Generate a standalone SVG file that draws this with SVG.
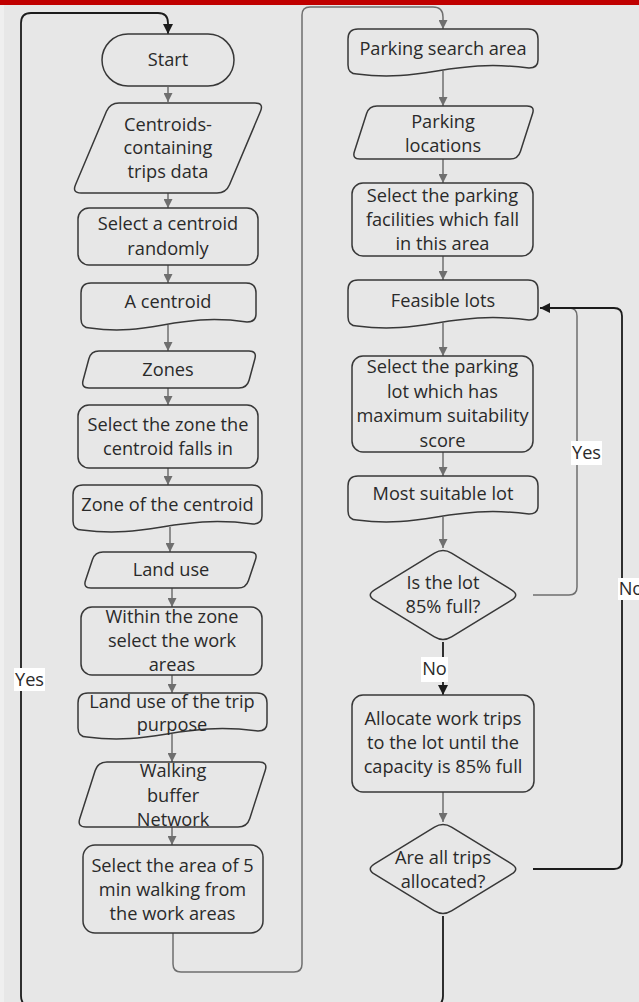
<svg xmlns="http://www.w3.org/2000/svg" width="639" height="1002" viewBox="0 0 639 1002">
<style>
.n{fill:#e7e7e7;stroke:#383838;stroke-width:1.5}
.t{font-family:"Open Sans","Liberation Sans",sans-serif;font-size:18.2px;fill:#2a2a2a;text-anchor:middle}
.c{fill:none;stroke:#6f6f6f;stroke-width:1.5}
.k{fill:none;stroke:#1c1c1c;stroke-width:1.8}
.lb{fill:#ffffff}
</style>
<defs>
<marker id="ag" viewBox="0 0 10 10" refX="10" refY="5" markerWidth="9" markerHeight="9" markerUnits="userSpaceOnUse" orient="auto"><path d="M0,0 L10,5 L0,10 z" fill="#6f6f6f"/></marker>
<marker id="ak" viewBox="0 0 10 10" refX="10" refY="5" markerWidth="10" markerHeight="10" markerUnits="userSpaceOnUse" orient="auto"><path d="M0,0 L10,5 L0,10 z" fill="#1c1c1c"/></marker>
</defs>
<rect x="0" y="0" width="639" height="1002" fill="#e7e7e7"/>
<rect x="0" y="0" width="4" height="1002" fill="#efefef"/>
<rect x="0" y="0" width="639" height="5" fill="#c00000"/>

<g id="connectors">
<path class="c" d="M168,87 V102" marker-end="url(#ag)"/>
<path class="c" d="M168,193 V208" marker-end="url(#ag)"/>
<path class="c" d="M168,265 V283" marker-end="url(#ag)"/>
<path class="c" d="M168,325 V351" marker-end="url(#ag)"/>
<path class="c" d="M168,388 V405" marker-end="url(#ag)"/>
<path class="c" d="M168,468 V485" marker-end="url(#ag)"/>
<path class="c" d="M170,527 V552" marker-end="url(#ag)"/>
<path class="c" d="M172,588 V607" marker-end="url(#ag)"/>
<path class="c" d="M172,675 V693" marker-end="url(#ag)"/>
<path class="c" d="M172,734 V762" marker-end="url(#ag)"/>
<path class="c" d="M172,827 V845" marker-end="url(#ag)"/>
<path class="c" d="M173,933 V964 Q173,972 181,972 H294 Q302,972 302,964 V15 Q302,7 310,7 H433 Q443,7 443,17 V29" marker-end="url(#ag)"/>
<path class="c" d="M443,71 V106" marker-end="url(#ag)"/>
<path class="c" d="M443,159 V183" marker-end="url(#ag)"/>
<path class="c" d="M443,256 V280" marker-end="url(#ag)"/>
<path class="c" d="M443,323 V356" marker-end="url(#ag)"/>
<path class="c" d="M443,452 V476" marker-end="url(#ag)"/>
<path class="c" d="M443,517 V548" marker-end="url(#ag)"/>
<path class="c" d="M533,595 H569 Q577,595 577,587 V316 Q577,308 569,308 H548"/>
<path class="k" d="M443,642 V695" marker-end="url(#ak)"/>
<path class="c" d="M443,792 V822" marker-end="url(#ag)"/>
<path class="k" d="M533,869 H614 Q622,869 622,861 V316 Q622,308 614,308 H540" marker-end="url(#ak)"/>
<path class="k" d="M443,916 V996 Q443,1006 433,1006 H31 Q21,1006 21,996 V23 Q21,13 31,13 H158 Q168,13 168,23 V34" marker-end="url(#ak)"/>
<rect class="lb" x="14" y="668" width="31" height="23"/>
<text class="t" x="29.5" y="686">Yes</text>
<rect class="lb" x="571" y="441" width="31" height="24"/>
<text class="t" x="586.5" y="459">Yes</text>
<rect class="lb" x="421" y="657" width="27" height="25"/>
<text class="t" x="434.5" y="675">No</text>
<rect class="lb" x="618" y="578" width="21" height="22"/>
<text class="t" x="631" y="595">No</text>
</g>

<g id="start">
<rect class="n" x="102" y="34" width="132" height="52" rx="26"/>
<text class="t" x="168" y="66">Start</text>
</g>
<g id="centroids-data">
<path class="n" d="M119,103 H255 Q264,103 260.5,111.3 L229.5,184.7 Q226,193 217,193 H81 Q72,193 75.5,184.7 L106.5,111.3 Q110,103 119,103 Z"/>
<text class="t"><tspan x="168" y="131">Centroids-</tspan><tspan x="168" y="154">containing</tspan><tspan x="168" y="178">trips data</tspan></text>
</g>
<g id="select-centroid">
<rect class="n" x="78" y="208" width="180" height="57" rx="11"/>
<text class="t"><tspan x="168" y="230">Select a centroid</tspan><tspan x="168" y="255">randomly</tspan></text>
</g>
<g id="a-centroid">
<path class="n" d="M91,283 H246 Q256,283 256,293 V314 Q256,322 247,322 C177,312 151,337 90,328 Q81,328 81,319 V293 Q81,283 91,283 Z"/>
<text class="t" x="168" y="308">A centroid</text>
</g>
<g id="zones">
<path class="n" d="M99,351 H249 Q257,351 254.9,358.7 L249.1,380.3 Q247,388 239,388 H89 Q81,388 83.1,380.3 L88.9,358.7 Q91,351 99,351 Z"/>
<text class="t" x="168" y="376">Zones</text>
</g>
<g id="select-zone">
<rect class="n" x="78" y="405" width="180" height="63" rx="11"/>
<text class="t"><tspan x="168" y="431">Select the zone the</tspan><tspan x="168" y="455">centroid falls in</tspan></text>
</g>
<g id="zone-of-centroid">
<path class="n" d="M83,485 H252 Q262,485 262,495 V516 Q262,524 253,524 C177,514 149,539 82,530 Q73,530 73,521 V495 Q73,485 83,485 Z"/>
<text class="t" x="167.5" y="511">Zone of the centroid</text>
</g>
<g id="land-use">
<path class="n" d="M103,552 H250 Q258,552 255.5,559.6 L248.5,580.4 Q246,588 238,588 H91 Q83,588 85.5,580.4 L92.5,559.6 Q95,552 103,552 Z"/>
<text class="t" x="171" y="576">Land use</text>
</g>
<g id="select-work-areas">
<rect class="n" x="81" y="607" width="181" height="68" rx="11"/>
<text class="t"><tspan x="172" y="623">Within the zone</tspan><tspan x="172" y="647">select the work</tspan><tspan x="172" y="671">areas</tspan></text>
</g>
<g id="land-use-trip-purpose">
<path class="n" d="M88,693 H257 Q267,693 267,703 V723 Q267,731 258,731 C182,721 154,746 87,737 Q78,737 78,728 V703 Q78,693 88,693 Z"/>
<text class="t"><tspan x="172" y="708">Land use of the trip</tspan><tspan x="172" y="731">purpose</tspan></text>
</g>
<g id="walking-buffer">
<path class="n" d="M107,762 H259 Q268,762 265.2,770.6 L249.8,818.4 Q247,827 238,827 H86 Q77,827 79.8,818.4 L95.2,770.6 Q98,762 107,762 Z"/>
<text class="t"><tspan x="173" y="777">Walking</tspan><tspan x="173" y="802">buffer</tspan><tspan x="173" y="826">Network</tspan></text>
</g>
<g id="select-walking-area">
<rect class="n" x="83" y="845" width="180" height="88" rx="12"/>
<text class="t"><tspan x="172.5" y="872">Select the area of 5</tspan><tspan x="172.5" y="896">min walking from</tspan><tspan x="172.5" y="920">the work areas</tspan></text>
</g>

<g id="parking-search-area">
<path class="n" d="M358,29 H528 Q538,29 538,39 V60 Q538,68 529,68 C452,58 424,83 357,74 Q348,74 348,65 V39 Q348,29 358,29 Z"/>
<text class="t" x="443" y="55">Parking search area</text>
</g>
<g id="parking-locations">
<path class="n" d="M377,106 H527 Q535,106 532.6,113.6 L520.4,151.4 Q518,159 510,159 H360 Q352,159 354.4,151.4 L366.6,113.6 Q369,106 377,106 Z"/>
<text class="t"><tspan x="443" y="128">Parking</tspan><tspan x="443" y="152">locations</tspan></text>
</g>
<g id="select-facilities">
<rect class="n" x="352" y="183" width="181" height="73" rx="11"/>
<text class="t"><tspan x="442.5" y="202">Select the parking</tspan><tspan x="442.5" y="226">facilities which fall</tspan><tspan x="442.5" y="250">in this area</tspan></text>
</g>
<g id="feasible-lots">
<path class="n" d="M358,280 H528 Q538,280 538,290 V312 Q538,320 529,320 C452,310 424,335 357,326 Q348,326 348,317 V290 Q348,280 358,280 Z"/>
<text class="t" x="443" y="307">Feasible lots</text>
</g>
<g id="select-lot">
<rect class="n" x="352" y="356" width="181" height="96" rx="11"/>
<text class="t"><tspan x="442.5" y="373">Select the parking</tspan><tspan x="442.5" y="397.5">lot which has</tspan><tspan x="442.5" y="422">maximum suitability</tspan><tspan x="442.5" y="446.5">score</tspan></text>
</g>
<g id="most-suitable-lot">
<path class="n" d="M358,476 H528 Q538,476 538,486 V506 Q538,514 529,514 C452,504 424,529 357,520 Q348,520 348,511 V486 Q348,476 358,476 Z"/>
<text class="t" x="443" y="500">Most suitable lot</text>
</g>
<g id="lot-full">
<path class="n" d="M434.46,553.21 Q443,548 451.54,553.21 L511.46,589.79 Q520,595 511.46,600.21 L451.54,636.79 Q443,642 434.46,636.79 L374.54,600.21 Q366,595 374.54,589.79 Z"/>
<text class="t"><tspan x="443" y="589">Is the lot</tspan><tspan x="443" y="613">85% full?</tspan></text>
</g>
<g id="allocate">
<rect class="n" x="352" y="695" width="182" height="97" rx="11"/>
<text class="t"><tspan x="443" y="725">Allocate work trips</tspan><tspan x="443" y="749">to the lot until the</tspan><tspan x="443" y="773">capacity is 85% full</tspan></text>
</g>
<g id="all-allocated">
<path class="n" d="M434.46,827.21 Q443,822 451.54,827.21 L511.46,863.79 Q520,869 511.46,874.21 L451.54,910.79 Q443,916 434.46,910.79 L374.54,874.21 Q366,869 374.54,863.79 Z"/>
<text class="t"><tspan x="443" y="864">Are all trips</tspan><tspan x="443" y="888">allocated?</tspan></text>
</g>
</svg>
